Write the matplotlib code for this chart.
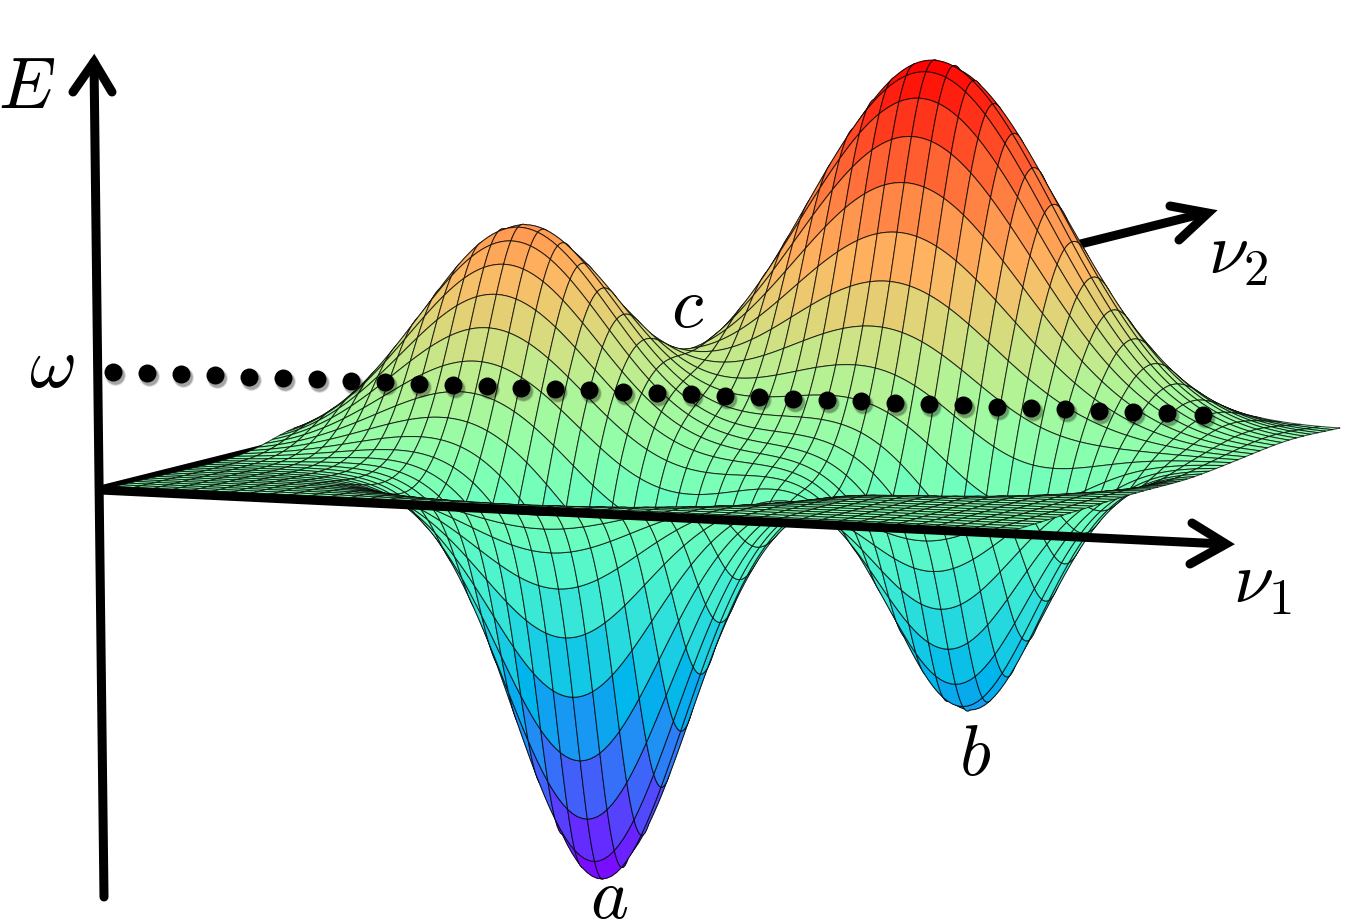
import numpy as np
import matplotlib
matplotlib.use("Agg")
import matplotlib.pyplot as plt
from matplotlib.collections import PolyCollection
from matplotlib.colors import Normalize

plt.rcParams['mathtext.fontset'] = 'cm'

# Feature parameters (screen pixels of height, fractions of base)
feature_names = ['a', 'b', 'orange', 'red']
feature_heights = [-400.0, -243.0, 223.0, 377.0]
feature_u = [0.434, 0.76, 0.239, 0.608]
feature_v = [0.33, 0.54, 0.62, 0.85]
feature_su = [0.09, 0.078, 0.105, 0.135]
feature_sv = [0.08, 0.075, 0.095, 0.105]
mesh_cells = 46
cell_steps = 4

# Corners of the base sheet, in picture pixels
corner_origin = (100, 490)
corner_front = (1005, 533)
corner_right = (1340, 430)
corner_back = (430, 412)

# Dotted path
dot_x = [113, 147, 181, 215, 249, 283, 317, 351, 385, 419, 453, 487, 521, 555, 589, 623, 657,
         691, 725, 759, 793, 827, 861, 895, 929, 963, 997, 1031, 1065, 1099, 1133, 1167, 1203]
dot_y = [372, 373, 374, 375, 377, 378, 379, 381, 382, 384, 385, 386, 388, 389, 390, 392, 393,
         394, 396, 397, 399, 400, 401, 403, 404, 405, 407, 408, 409, 411, 412, 413, 415]

# Axes lines (picture pixels); the nu2 axis only shows at its two ends
e_axis_x, e_axis_y = [104, 94], [897, 62]
e_head_x, e_head_y = [73, 94, 112], [92, 62, 92]
nu1_axis_x, nu1_axis_y = [100, 1224], [490, 544]
nu1_head_x, nu1_head_y = [1192, 1226, 1190], [523, 544, 564]
nu2_near_x, nu2_near_y = [100, 300], [490, 440]
nu2_far_x, nu2_far_y = [1000, 1205], [264, 213]
nu2_head_x, nu2_head_y = [1170, 1208, 1179], [206, 213, 240]

labels = [r'$E$', r'$\omega$', r'$c$', r'$b$', r'$\nu_1$', r'$\nu_2$']
label_x = [27, 52, 688, 975, 1263, 1238]
label_y = [88, 368, 308, 755, 583, 254]
label_size = 52
bottom_label = r'$a$'
bottom_label_x, bottom_label_y = 609, 918

fig = plt.figure(figsize=(13.64, 9.24), dpi=100)
ax = fig.add_axes([0, 0, 1, 1])
ax.set_xlim(0, 1364)
ax.set_ylim(924, 0)
ax.axis('off')

n = mesh_cells * cell_steps + 1
U, V = np.meshgrid(np.linspace(0, 1, n), np.linspace(0, 1, n), indexing='ij')
Z = np.zeros_like(U)
for h, u0, v0, su, sv in zip(feature_heights, feature_u, feature_v, feature_su, feature_sv):
    Z += h * np.exp(-(U - u0) ** 2 / (2 * su ** 2) - (V - v0) ** 2 / (2 * sv ** 2))


def base(a, b, index):
    return ((1 - a) * (1 - b) * corner_origin[index] + a * (1 - b) * corner_front[index]
            + a * b * corner_right[index] + (1 - a) * b * corner_back[index])


X = base(U, V, 0)
Y0 = base(U, V, 1)
Y = Y0 - Z

verts, vals, depth = [], [], []
s = cell_steps
for ci in range(mesh_cells):
    for cj in range(mesh_cells):
        i0, i1, j0, j1 = ci * s, (ci + 1) * s, cj * s, (cj + 1) * s
        ii = np.r_[np.arange(i0, i1), np.full(s, i1), np.arange(i1, i0, -1), np.full(s, i0)]
        jj = np.r_[np.full(s, j0), np.arange(j0, j1), np.full(s, j1), np.arange(j1, j0, -1)]
        verts.append(np.column_stack([X[ii, jj], Y[ii, jj]]))
        vals.append(Z[i0:i1 + 1, j0:j1 + 1].mean())
        depth.append(Y0[i0:i1 + 1, j0:j1 + 1].mean())
order = np.argsort(depth)
verts = [verts[k] for k in order]
vals = np.array(vals)[order]

# nu2 axis lies behind the surface
for xs, ys in [(nu2_near_x, nu2_near_y), (nu2_far_x, nu2_far_y), (nu2_head_x, nu2_head_y)]:
    ax.plot(xs, ys, color='k', lw=6.5, solid_capstyle='round', solid_joinstyle='miter', zorder=1)

mesh = PolyCollection(verts, array=vals, cmap='rainbow',
                      norm=Normalize(Z.min(), Z.max()),
                      edgecolors=(0, 0, 0, 0.72), linewidths=0.75, zorder=2)
ax.add_collection(mesh)

for xs, ys in [(e_axis_x, e_axis_y), (e_head_x, e_head_y),
               (nu1_axis_x, nu1_axis_y), (nu1_head_x, nu1_head_y)]:
    ax.plot(xs, ys, color='k', lw=6.5, solid_capstyle='round', solid_joinstyle='miter', zorder=3)

dx, dy = np.array(dot_x), np.array(dot_y)
for size, alpha in [(230, 0.08), (200, 0.12), (175, 0.2)]:
    ax.scatter(dx + 2, dy + 3, s=size, color='k', alpha=alpha, linewidths=0, zorder=4)
ax.scatter(dx, dy, s=168, color='k', linewidths=0, zorder=5)

for text, x, y in zip(labels, label_x, label_y):
    ax.text(x, y, text, fontsize=label_size, ha='center', va='center', zorder=6)
ax.text(bottom_label_x, bottom_label_y, bottom_label, fontsize=label_size,
        ha='center', va='baseline', zorder=6)

fig.savefig('out.png', dpi=100)
